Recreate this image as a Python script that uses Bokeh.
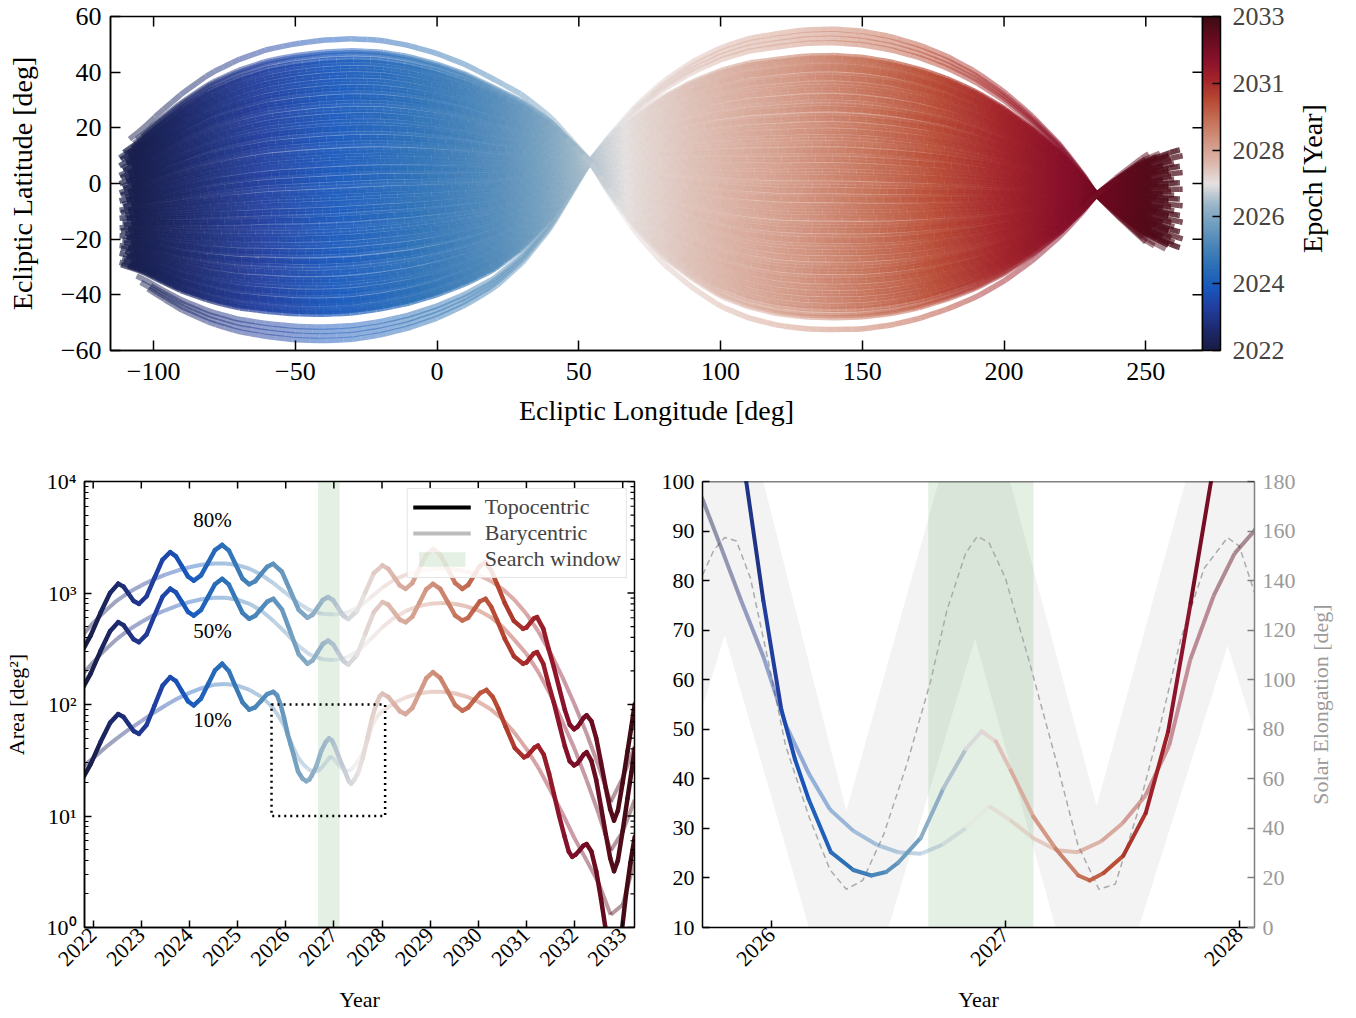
import math
import numpy as np
from bokeh.plotting import figure
from bokeh.layouts import column, row
from bokeh.models import (Range1d, LinearAxis, FixedTicker, ColorBar, LinearColorMapper,
                          Legend, LegendItem, Label, Span)
from bokeh.embed import file_html
from bokeh.resources import INLINE

SERIF = "Liberation Serif"
GREEN = "#4c9a4c"

# ------------------------------------------------------------------ colour map
# diverging navy -> blue -> pale grey -> salmon -> red -> maroon
CMAP_STOPS = [
    (0.000, "#181c43"), (0.063, "#1d2a6e"), (0.125, "#213d9e"), (0.188, "#1858bd"),
    (0.250, "#2a6fb6"), (0.313, "#4a85b8"), (0.375, "#6f9dbf"), (0.438, "#9db7c8"),
    (0.500, "#e6e1e0"), (0.563, "#dbb6aa"), (0.625, "#d29683"), (0.688, "#c57158"),
    (0.750, "#b84a33"), (0.813, "#a3242a"), (0.875, "#87102b"), (0.938, "#640b1f"),
    (1.000, "#3c0b13"),
]


def _rgb(h):
    return [int(h[i:i + 2], 16) for i in (1, 3, 5)]


_su = [s[0] for s in CMAP_STOPS]
_sc = np.array([_rgb(s[1]) for s in CMAP_STOPS], float)
PALETTE = []
for _i in range(256):
    _u = _i / 255.0
    _c = [int(round(np.interp(_u, _su, _sc[:, k]))) for k in range(3)]
    PALETTE.append("#%02x%02x%02x" % tuple(_c))


def cmap(u):
    u = min(max(float(u), 0.0), 1.0)
    return PALETTE[int(round(u * 255))]


# ------------------------------------------------------------------ time axes
T_START, T_END = 2021.82, 2033.245          # epoch span of the survey
ZOOM_YEARS = (2025.705, 2028.065)          # zoomed interval
ZOOM_AREA = (10.0, 100.0)                  # zoomed area interval [deg^2]
SEARCH_WINDOW = (2026.67, 2027.12)

# ------------------------------------------------------------------ sky tracks
# signed latitude profile of a track (left lobe +, right lobe -, fan +)
profile_lon = [-116, -110, -104, -98, -90, -80, -70, -60, -50, -40, -30, -20, -10, 0, 10, 20, 30,
               40, 48, 54, 60, 70, 80, 90, 100, 110, 120, 130, 140, 150, 160, 170, 180, 190, 200,
               210, 220, 228, 232.5, 240, 250, 260, 268]
profile_val = [0.39, 0.45, 0.52, 0.61, 0.72, 0.83, 0.905, 0.955, 0.985, 1.0, 1.0, 0.98, 0.94,
               0.88, 0.80, 0.695, 0.56, 0.37, 0.16, 0.0, -0.17, -0.42, -0.61, -0.75, -0.86, -0.93,
               -0.97, -0.995, -1.0, -0.99, -0.96, -0.91, -0.84, -0.75, -0.63, -0.48, -0.30, -0.12,
               0.0, 0.13, 0.29, 0.39, 0.44]
# latitude of the ensemble centre line
center_lon = [-116, -100, -80, -60, -40, -20, 0, 20, 30, 40, 48, 54, 60, 70, 80, 100, 120, 140,
              160, 180, 200, 220, 232.5, 250, 268]
center_lat = [-10, -7, -4, -2, -1, 0, 0.5, 1, 2.5, 4.5, 6.5, 8, 6.5, 4.5, 3, 1, 0, 0, -0.5, -1,
              -2, -3, -4, -5, -6]
# epoch reached at each ecliptic longitude
epoch_lon = [-116, -100, -80, -60, -40, -20, 0, 20, 40, 54, 70, 100, 130, 160, 190, 210, 225,
             233, 245, 268]
epoch_year = [2021.82, 2022.16, 2022.73, 2023.31, 2023.88, 2024.33, 2024.90, 2025.59, 2026.39,
              2027.08, 2027.65, 2028.30, 2029.10, 2029.95, 2030.85, 2031.45, 2031.92, 2032.25,
              2032.67, 2033.245]

# ensemble members: left-lobe latitude excursion, first and last longitude
outer_amp = [52.5, 48.2, 47.5, 46.8, -55.5, -53.8, -52.2, -50.6]
outer_lon_start = [-108.5, -106.0, -104.0, -107.0, -102.0, -104.5, -101.0, -106.0]
outer_lon_end = [251, 250, 255, 248, 250, 253, 249, 257]
dense_amp = [-46.0, -45.1, -44.3, -43.2, -42.1, -41.3, -40.2, -39.0, -38.1, -36.9,
             -35.8, -34.6, -33.7, -32.4, -31.2, -30.3, -29.1, -27.8, -26.9, -25.7,
             -24.4, -23.5, -22.2, -21.1, -20.0, -18.8, -17.9, -16.6, -15.4, -14.5,
             -13.3, -12.0, -11.1, -9.9, -8.7, -7.6, -6.4, -5.5, -4.2, -3.0,
             -2.1, -0.9, 0.2, 1.4, 2.5, 3.6, 4.8, 5.7, 6.9, 8.1,
             9.0, 10.2, 11.4, 12.3, 13.6, 14.7, 15.8, 16.9, 18.1, 19.2,
             20.4, 21.3, 22.6, 23.7, 24.8, 25.9, 27.1, 28.2, 29.4, 30.5,
             31.6, 32.8, 33.9, 35.0, 36.2, 37.3, 38.4, 39.6, 40.7, 41.9,
             43.0, 44.1, 45.2]
dense_lon_start = [-111.5, -109.0, -112.0, -107.5, -110.5, -108.0, -111.0, -106.5, -109.5,
                   -112.0, -108.5, -110.0, -107.0]
dense_lon_end = [251, 258, 247, 262, 254, 249, 260, 256, 245, 259, 252, 263, 248]
dense_alpha = [0.7, 0.85, 0.62, 0.8, 0.75, 0.9, 0.65, 0.78, 0.88, 0.7, 0.82, 0.72, 0.86]

# ------------------------------------------------------------------ sky area vs time
topo_years = [2021.75, 2021.95, 2022.15, 2022.35, 2022.52, 2022.63, 2022.735, 2022.84, 2022.95, 2023.11,
              2023.275, 2023.44, 2023.60, 2023.72, 2023.845, 2023.97, 2024.09, 2024.24, 2024.385, 2024.53,
              2024.68, 2024.82, 2024.96, 2025.10, 2025.24, 2025.365, 2025.49, 2025.615, 2025.74, 2025.92,
              2026.095, 2026.27, 2026.45, 2026.56, 2026.665, 2026.77, 2026.88, 2026.985, 2027.09, 2027.195,
              2027.30, 2027.48, 2027.655, 2027.83, 2028.01, 2028.13, 2028.25, 2028.37, 2028.49, 2028.63,
              2028.775, 2028.92, 2029.06, 2029.21, 2029.365, 2029.52, 2029.67, 2029.79, 2029.91, 2030.03,
              2030.15, 2030.27, 2030.39, 2030.55, 2030.74, 2030.93, 2031.00, 2031.075, 2031.15, 2031.22,
              2031.35, 2031.46, 2031.57, 2031.68, 2031.80, 2031.90, 2031.99, 2032.06, 2032.125, 2032.19,
              2032.25, 2032.35, 2032.45, 2032.55, 2032.65, 2032.74, 2032.82, 2032.90, 2033.00, 2033.10,
              2033.18, 2033.25]
topo_80 = [290, 417, 661, 1000, 1211, 1140, 984, 849, 800, 935,
           1365, 1986, 2323, 2133, 1734, 1406, 1291, 1439, 1866, 2421,
           2698, 2399, 1799, 1349, 1199, 1276, 1483, 1718, 1828, 1552,
           1047, 706, 600, 638, 743, 865, 920, 861, 735, 625,
           585, 687, 1019, 1507, 1770, 1648, 1390, 1169, 1089, 1227,
           1648, 2208, 2489, 2208, 1648, 1227, 1089, 1180, 1435, 1742,
           1888, 1585, 1202, 813, 562, 478, 490, 537, 589, 607,
           479, 316, 216, 141, 89, 66, 60, 63, 69, 76,
           80, 71, 50, 30, 17.8, 11.5, 9.1, 11.2, 20, 38, 63, 101]
topo_50 = [132, 190, 300, 453, 547, 515, 445, 384, 362, 426,
           629, 925, 1092, 1011, 829, 678, 627, 704, 918, 1198,
           1341, 1188, 889, 664, 588, 624, 722, 835, 887, 714,
           450, 282, 232, 249, 295, 349, 374, 346, 292, 246,
           228, 278, 433, 674, 828, 786, 674, 577, 547, 611,
           814, 1082, 1207, 1091, 829, 628, 566, 599, 710, 840,
           887, 748, 571, 389, 271, 232, 238, 261, 286, 295,
           232, 152, 104, 67, 42, 31, 28.4, 29.7, 32.4, 35.6,
           37.4, 31.2, 21, 12, 6.8, 4.2, 3.2, 4.0, 7.4, 14.4, 24.6, 40]

topo10_years = [2021.75, 2021.95, 2022.15, 2022.35, 2022.52, 2022.63, 2022.735, 2022.84, 2022.95, 2023.11,
                2023.275, 2023.44, 2023.60, 2023.72, 2023.845, 2023.97, 2024.09, 2024.24, 2024.385, 2024.53,
                2024.68, 2024.82, 2024.96, 2025.10, 2025.24, 2025.365, 2025.49, 2025.615, 2025.74, 2025.82,
                2025.892, 2025.965, 2026.042, 2026.10, 2026.158, 2026.254, 2026.35, 2026.427, 2026.49, 2026.542,
                2026.638, 2026.735, 2026.831, 2026.898, 2026.96, 2027.023, 2027.119, 2027.215, 2027.312, 2027.36,
                2027.42, 2027.504, 2027.60, 2027.696, 2027.792, 2027.879, 2027.95, 2028.01, 2028.13, 2028.25,
                2028.37, 2028.49, 2028.63, 2028.775, 2028.92, 2029.06, 2029.21, 2029.365, 2029.52, 2029.67,
                2029.79, 2029.91, 2030.04, 2030.17, 2030.30, 2030.42, 2030.57, 2030.76, 2030.95, 2031.02,
                2031.10, 2031.17, 2031.24, 2031.36, 2031.47, 2031.57, 2031.68, 2031.79, 2031.88, 2031.95,
                2032.02, 2032.10, 2032.18, 2032.25, 2032.35, 2032.45, 2032.55, 2032.64, 2032.73, 2032.82,
                2032.91, 2032.99, 2033.07, 2033.16, 2033.25]
topo_10 = [20.5, 29.3, 45.8, 68.4, 82, 77.4, 66.8, 57.8, 54.5, 65.5,
           98, 147, 176, 162, 131, 107, 98, 113, 151, 202,
           232, 199, 144, 105, 90, 94.4, 108, 124, 130, 121,
           100, 76, 54, 44, 36, 25.2, 21.6, 20.5, 21.2, 23.1,
           28.1, 38.1, 46, 49.6, 47.5, 41.7, 32.4, 25.9, 20.5, 19.5,
           21.0, 24.5, 33.1, 49.6, 75.5, 100, 118, 125, 117, 101,
           87, 82, 93, 126, 172, 195, 173, 131, 99, 88,
           94, 109, 127, 135, 117, 91, 63, 40.7, 33.6, 34.7,
           38, 41.2, 42.8, 35.5, 24, 15.8, 10, 6.6, 4.8, 4.3,
           4.5, 4.9, 5.4, 5.6, 4.8, 3.2, 1.8, 1.0, 0.5, 0.35,
           0.5, 1.0, 2.0, 3.8, 6.5]

bary_years = [2021.75, 2022.0, 2022.25, 2022.5, 2022.75, 2023.0, 2023.25, 2023.5, 2023.75, 2024.0,
              2024.25, 2024.5, 2024.75, 2025.0, 2025.25, 2025.5, 2025.75, 2026.0, 2026.25, 2026.5,
              2026.75, 2027.0, 2027.25, 2027.5, 2027.75, 2028.0, 2028.25, 2028.5, 2028.75, 2029.0,
              2029.25, 2029.5, 2029.75, 2030.0, 2030.25, 2030.5, 2030.75, 2031.0, 2031.25, 2031.5,
              2031.75, 2032.0, 2032.25, 2032.5, 2032.75, 2033.0, 2033.25]
bary_80 = [405, 540, 690, 860, 1020, 1170, 1320, 1460, 1590, 1700,
           1790, 1840, 1840, 1780, 1650, 1450, 1220, 1000, 820, 700,
           650, 640, 660, 740, 900, 1110, 1310, 1460, 1570, 1630,
           1650, 1630, 1560, 1450, 1290, 1090, 870, 650, 450, 290,
           175, 100, 55, 28, 13.3, 22, 42]
bary_50 = [180, 240, 310, 390, 470, 550, 630, 700, 770, 830,
           880, 905, 905, 870, 800, 690, 560, 440, 340, 280,
           255, 250, 262, 300, 380, 490, 600, 690, 760, 800,
           815, 800, 760, 700, 610, 500, 380, 285, 195, 122,
           70, 40, 21, 10.5, 4.9, 7.2, 14]

bary10_years = [2021.75, 2022.0, 2022.25, 2022.5, 2022.75, 2023.0, 2023.25, 2023.5, 2023.75, 2024.0,
                2024.25, 2024.5, 2024.75, 2025.0, 2025.25, 2025.5, 2025.706, 2025.79, 2025.87, 2025.965,
                2026.06, 2026.16, 2026.25, 2026.35, 2026.45, 2026.54, 2026.64, 2026.73, 2026.83, 2026.93,
                2027.02, 2027.12, 2027.22, 2027.31, 2027.41, 2027.50, 2027.60, 2027.70, 2027.79, 2027.89,
                2027.98, 2028.06, 2028.25, 2028.5, 2028.75, 2029.0, 2029.25, 2029.5, 2029.75, 2030.0,
                2030.25, 2030.5, 2030.75, 2031.0, 2031.25, 2031.5, 2031.75, 2032.0, 2032.25, 2032.5,
                2032.75, 2033.0, 2033.25]
bary_10 = [27, 33, 41, 50, 60, 71, 84, 98, 113, 127,
           140, 150, 153, 148, 135, 117, 96.3, 86, 76, 64.7,
           51, 41, 33.8, 29.5, 26.7, 25.2, 24.9, 26.7, 30, 34.5,
           31.7, 28, 25.6, 25.2, 27.4, 31, 36.7, 46.7, 64, 76.9,
           85.5, 89.8, 103, 116, 125, 130, 130, 126, 118, 106,
           91, 74, 56, 40, 27, 17, 10.5, 6.3, 4.0, 2.5,
           1.3, 1.6, 4.0]

# ------------------------------------------------------------------ solar elongation
elong_years = [2025.706, 2025.754, 2025.80, 2025.85, 2025.91, 2025.985, 2026.06, 2026.16, 2026.25,
               2026.32, 2026.39, 2026.48, 2026.58, 2026.68, 2026.75, 2026.83, 2026.88, 2026.93,
               2027.0, 2027.1, 2027.22, 2027.31, 2027.40, 2027.47, 2027.56, 2027.66, 2027.75,
               2027.85, 2027.95, 2028.0, 2028.065]
elong_nominal = [142.4, 152.4, 157.4, 156, 141, 108, 73.5, 44.8, 23.3, 15.4, 19, 37.6, 66.3, 99.3,
                 128, 151, 157.9, 155.3, 141, 108, 66.3, 33.3, 15.4, 17.5, 44.8, 80.7, 116.6, 145,
                 157.4, 153.9, 135.2]
elong_upper_years = [2025.705, 2025.965, 2026.32, 2026.715, 2027.02, 2027.39, 2027.77, 2028.065]
elong_upper = [180, 180, 47, 180, 180, 49, 180, 180]
elong_lower_years = [2025.705, 2025.80, 2026.16, 2026.50, 2026.87, 2027.215, 2027.57, 2027.95, 2028.065]
elong_lower = [89, 118, 0, 0, 116.6, 0, 0, 113.7, 79]


# ------------------------------------------------------------------ helpers
def style(p, tick_px, label_px, tick_len):
    for ax in p.axis:
        ax.axis_line_color = "black"
        ax.axis_line_width = 1.5
        ax.major_tick_in = tick_len
        ax.major_tick_out = 0
        ax.minor_tick_in = 0
        ax.minor_tick_out = 0
        ax.major_tick_line_width = 1.5
        ax.major_tick_line_color = "black"
        ax.major_label_text_font = SERIF
        ax.major_label_text_font_size = tick_px
        ax.major_label_text_color = "black"
        ax.axis_label_text_font = SERIF
        ax.axis_label_text_font_size = label_px
        ax.axis_label_text_font_style = "normal"
        ax.axis_label_text_color = "black"
    p.xgrid.visible = False
    p.ygrid.visible = False
    p.outline_line_color = "black"
    p.outline_line_width = 1.5
    p.background_fill_color = "white"
    p.border_fill_color = "white"


def minus(v):
    return str(v).replace("-", "\u2212")


def colored_path(p, xs, ys, t0, t1, alpha, width, cap, **kw):
    xs = np.asarray(xs, float)
    ys = np.asarray(ys, float)
    mid = 0.5 * (xs[:-1] + xs[1:])
    cols = [cmap((m - t0) / (t1 - t0)) for m in mid]
    p.segment(x0=xs[:-1], y0=ys[:-1], x1=xs[1:], y1=ys[1:], line_color=cols,
              line_alpha=alpha, line_width=width, line_cap=cap, **kw)


def text_strip(width, height, x, y, text, size, color):
    """Narrow axis-less figure carrying one vertical caption."""
    f = figure(width=width, height=height, x_range=Range1d(0, 1), y_range=Range1d(0, 1),
               output_backend="svg", toolbar_location=None, min_border=0,
               x_axis_location=None, y_axis_location=None)
    f.xgrid.visible = False
    f.ygrid.visible = False
    f.outline_line_color = None
    f.background_fill_color = "white"
    f.border_fill_color = "white"
    f.add_layout(Label(x=x, y=y, text=text, angle=math.pi / 2, text_align="center",
                       text_baseline="middle", text_font=SERIF, text_font_size=size,
                       text_color=color))
    return f


# ================================================================== top panel
LON_RANGE = (-115.2, 270.0)
LAT_RANGE = (-60.0, 60.0)
top = figure(width=1296, height=440, x_range=Range1d(*LON_RANGE), y_range=Range1d(*LAT_RANGE),
             output_backend="svg", toolbar_location=None,
             min_border_left=110, min_border_right=94, min_border_top=16, min_border_bottom=90)

n_dense = len(dense_amp)
track_amp = outer_amp + dense_amp
track_start = outer_lon_start + [dense_lon_start[i % len(dense_lon_start)] for i in range(n_dense)]
track_end = outer_lon_end + [dense_lon_end[i % len(dense_lon_end)] for i in range(n_dense)]
track_alpha = [0.5] * len(outer_amp) + [dense_alpha[i % len(dense_alpha)] for i in range(n_dense)]

sx0, sy0, sx1, sy1, scol, salpha = [], [], [], [], [], []
for amp, l0, l1, a in zip(track_amp, track_start, track_end, track_alpha):
    lon = np.append(np.arange(l0, l1, 3.0), l1)
    lat = np.interp(lon, center_lon, center_lat) + amp * np.interp(lon, profile_lon, profile_val)
    mid = 0.5 * (lon[:-1] + lon[1:])
    ep = np.interp(mid, epoch_lon, epoch_year)
    sx0.extend(lon[:-1].tolist()); sy0.extend(lat[:-1].tolist())
    sx1.extend(lon[1:].tolist()); sy1.extend(lat[1:].tolist())
    scol.extend(cmap((e - T_START) / (T_END - T_START)) for e in ep)
    salpha.extend([a] * len(mid))
top.segment(x0=sx0, y0=sy0, x1=sx1, y1=sy1, line_color=scol, line_alpha=salpha, line_width=5.5)

lon_ticks = [-100, -50, 0, 50, 100, 150, 200, 250]
lat_ticks = [-60, -40, -20, 0, 20, 40, 60]
top.xaxis.ticker = FixedTicker(ticks=lon_ticks)
top.yaxis.ticker = FixedTicker(ticks=lat_ticks)
top.xaxis.major_label_overrides = {v: minus(v) for v in lon_ticks}
top.yaxis.major_label_overrides = {v: minus(v) for v in lat_ticks}
top.xaxis.axis_label = "Ecliptic Longitude [deg]"
top.yaxis.axis_label = "Ecliptic Latitude [deg]"
style(top, "26px", "28px", 10)
top.xaxis.major_label_standoff = 12
top.yaxis.major_label_standoff = 9
top.xaxis.axis_label_standoff = 12
top.yaxis.axis_label_standoff = 20
# mirrored ticks on the top and right edges
top.ray(x=lon_ticks, y=[LAT_RANGE[1]] * len(lon_ticks), length=10, length_units="screen",
        angle=-math.pi / 2, line_color="black", line_width=1.5)
top.ray(x=[LON_RANGE[1]] * len(lat_ticks), y=lat_ticks, length=10, length_units="screen",
        angle=math.pi, line_color="black", line_width=1.5)

cb_ticks = [2021.82, 2024.105, 2026.39, 2028.675, 2030.96, 2033.245]
cb_labels = ["2022", "2024", "2026", "2028", "2031", "2033"]
mapper = LinearColorMapper(palette=PALETTE, low=T_START, high=T_END)
cbar = ColorBar(color_mapper=mapper, ticker=FixedTicker(ticks=cb_ticks),
                major_label_overrides=dict(zip(cb_ticks, cb_labels)),
                width=18, padding=0, margin=0, bar_line_color="black", bar_line_width=1.5,
                major_tick_line_color="black", major_tick_line_width=1.5, major_tick_in=8,
                major_tick_out=0, minor_tick_line_color=None, label_standoff=12,
                major_label_text_font=SERIF, major_label_text_font_size="26px",
                background_fill_color=None, border_line_color=None)
top.add_layout(cbar, "right")
epoch_strip = text_strip(60, 440, 16 / 60, 226.5 / 440, "Epoch [Year]", "28px", "black")

# ================================================================== area vs time
bl = figure(width=650, height=578, x_range=Range1d(T_START, T_END), y_range=Range1d(1, 1e4),
            y_axis_type="log", output_backend="svg", toolbar_location=None,
            min_border_left=84, min_border_right=16, min_border_top=41, min_border_bottom=91)

r_win = bl.quad(left=[SEARCH_WINDOW[0]], right=[SEARCH_WINDOW[1]], bottom=[1], top=[1e4],
                fill_color=GREEN, fill_alpha=0.15, line_alpha=0)
for yrs, vals in ((bary_years, bary_80), (bary_years, bary_50), (bary10_years, bary_10)):
    colored_path(bl, yrs, vals, T_START, T_END, 0.42, 4, "butt")
for yrs, vals in ((topo_years, topo_80), (topo_years, topo_50), (topo10_years, topo_10)):
    colored_path(bl, yrs, vals, T_START, T_END, 1.0, 4.5, "round")
bl.quad(left=[ZOOM_YEARS[0]], right=[ZOOM_YEARS[1]], bottom=[ZOOM_AREA[0]], top=[ZOOM_AREA[1]],
        fill_alpha=0, line_color="black", line_dash="2 4", line_width=2.5)

for txt, yv in (("80%", 4560), ("50%", 452), ("10%", 72)):
    bl.add_layout(Label(x=2024.48, y=yv, text=txt, text_align="center", text_baseline="middle",
                        text_font=SERIF, text_font_size="21px", text_color="black"))

# legend proxies (no visible data)
leg_topo = bl.line(x=[np.nan, np.nan], y=[np.nan, np.nan], line_color="black", line_width=4)
leg_bary = bl.line(x=[np.nan, np.nan], y=[np.nan, np.nan], line_color="#bdbdbd", line_width=4)
legend = Legend(items=[LegendItem(label="Topocentric", renderers=[leg_topo]),
                       LegendItem(label="Barycentric", renderers=[leg_bary]),
                       LegendItem(label="Search window", renderers=[r_win])],
                location="top_right", margin=7, padding=5, spacing=0, glyph_width=58,
                glyph_height=18, label_height=18, label_standoff=14,
                label_text_font=SERIF, label_text_font_size="22px",
                border_line_color="#cccccc", border_line_width=1.5,
                background_fill_color="white", background_fill_alpha=0.85)
bl.add_layout(legend)

year_ticks = list(range(2022, 2034))
decades = [1, 10, 100, 1000, 10000]
minor = [m * d for d in decades[:-1] for m in range(2, 10)]
sup = {1: "10\u2070", 10: "10\u00b9", 100: "10\u00b2", 1000: "10\u00b3", 10000: "10\u2074"}
bl.xaxis.ticker = FixedTicker(ticks=year_ticks)
bl.yaxis.ticker = FixedTicker(ticks=decades, minor_ticks=minor)
bl.yaxis.major_label_overrides = sup
bl.xaxis.axis_label = "Year"
bl.yaxis.axis_label = "Area [deg\u00b2]"
style(bl, "22px", "22px", 7)
bl.yaxis.minor_tick_in = 4
bl.yaxis.minor_tick_line_color = "black"
bl.yaxis.minor_tick_line_width = 1.2
bl.xaxis.major_label_orientation = math.pi / 4
bl.xaxis.major_label_standoff = 4
bl.xaxis.axis_label_standoff = 11
bl.yaxis.major_label_standoff = 8
bl.yaxis.axis_label_standoff = 15
bl.ray(x=year_ticks, y=[1e4] * len(year_ticks), length=7, length_units="screen",
       angle=-math.pi / 2, line_color="black", line_width=1.5)
bl.ray(x=[T_END] * len(decades), y=decades, length=7, length_units="screen",
       angle=math.pi, line_color="black", line_width=1.5)
bl.ray(x=[T_END] * len(minor), y=minor, length=4, length_units="screen",
       angle=math.pi, line_color="black", line_width=1.2)

# ================================================================== zoom on the 10 % area
br = figure(width=650, height=578, x_range=Range1d(*ZOOM_YEARS), y_range=Range1d(*ZOOM_AREA),
            output_backend="svg", toolbar_location=None,
            min_border_left=52, min_border_right=46, min_border_top=41, min_border_bottom=91)
br.extra_y_ranges = {"elong": Range1d(0, 180)}

br.patch(x=elong_upper_years + elong_lower_years[::-1], y=elong_upper + elong_lower[::-1],
         y_range_name="elong", fill_color="#f3f3f3", line_alpha=0)
br.quad(left=[SEARCH_WINDOW[0]], right=[SEARCH_WINDOW[1]], bottom=[ZOOM_AREA[0]], top=[ZOOM_AREA[1]],
        fill_color=GREEN, fill_alpha=0.15, line_alpha=0)
br.line(x=elong_years, y=elong_nominal, y_range_name="elong", line_color="#ababab",
        line_width=1.5, line_dash="6 4")
colored_path(br, bary10_years, bary_10, ZOOM_YEARS[0], ZOOM_YEARS[1], 0.45, 4, "butt")
colored_path(br, topo10_years, topo_10, ZOOM_YEARS[0], ZOOM_YEARS[1], 1.0, 4, "round")

ax_r = LinearAxis(y_range_name="elong")
br.add_layout(ax_r, "right")
br.xaxis.ticker = FixedTicker(ticks=[2026, 2027, 2028])
br.left[0].ticker = FixedTicker(ticks=list(range(10, 101, 10)))
ax_r.ticker = FixedTicker(ticks=list(range(0, 181, 20)))
br.xaxis.axis_label = "Year"
style(br, "22px", "22px", 7)
br.outline_line_color = None
ax_r.axis_line_color = "#808080"
ax_r.major_tick_line_color = "#808080"
ax_r.major_label_text_color = "#9a9a9a"
br.xaxis.major_label_standoff = 4
br.xaxis.major_label_orientation = math.pi / 4
br.xaxis.axis_label_standoff = 11
for ax in br.yaxis:
    ax.major_label_standoff = 8
br.add_layout(Span(location=ZOOM_AREA[1], dimension="width", line_color="black", line_width=1.5))
elong_strip = text_strip(56, 578, 20 / 56, 289 / 578, "Solar Elongation [deg]", "22px", "#9a9a9a")

layout = column(row(top, epoch_strip), row(bl, br, elong_strip))
open("out.html", "w").write(file_html(layout, INLINE))
